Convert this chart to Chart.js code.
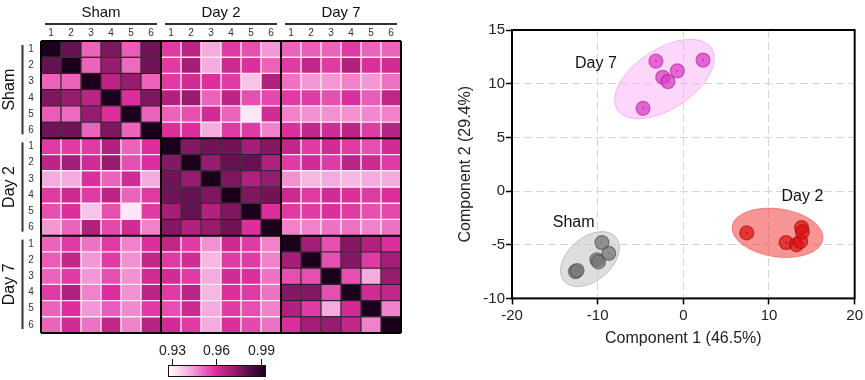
<!DOCTYPE html>
<html><head><meta charset="utf-8">
<script src="https://cdn.jsdelivr.net/npm/chart.js@4.4.1/dist/chart.umd.min.js"></script>
<style>
html,body{margin:0;padding:0;background:#fff;}
#wrap{position:relative;width:865px;height:380px;overflow:hidden;}
.box{position:absolute;top:0;}
</style></head><body>
<div id="wrap">
  <div class="box" style="left:0;width:430px;height:380px"><canvas id="heat" width="430" height="380"></canvas></div>
  <div class="box" style="left:430px;width:435px;height:380px"><canvas id="pca" width="435" height="380"></canvas></div>
</div>
<script>
// ---------------- DATA ----------------
const groups = ['Sham', 'Day 2', 'Day 7'];
const samples = ['1', '2', '3', '4', '5', '6'];

// Correlation blocks (rows = first group samples, cols = second group samples)
const shamSham = [
  [1.000, 0.980, 0.952, 0.976, 0.953, 0.978],
  [0.980, 1.000, 0.952, 0.972, 0.951, 0.978],
  [0.952, 0.952, 1.000, 0.966, 0.972, 0.952],
  [0.976, 0.972, 0.966, 1.000, 0.960, 0.976],
  [0.953, 0.951, 0.972, 0.960, 1.000, 0.952],
  [0.978, 0.978, 0.952, 0.976, 0.952, 1.000]
];
const shamDay2 = [
  [0.958, 0.966, 0.942, 0.958, 0.955, 0.945],
  [0.958, 0.970, 0.942, 0.963, 0.960, 0.952],
  [0.958, 0.962, 0.960, 0.958, 0.938, 0.968],
  [0.968, 0.972, 0.952, 0.966, 0.955, 0.956],
  [0.952, 0.955, 0.962, 0.952, 0.932, 0.962],
  [0.960, 0.960, 0.942, 0.958, 0.958, 0.948]
];
const shamDay7 = [
  [0.952, 0.953, 0.952, 0.958, 0.952, 0.952],
  [0.958, 0.965, 0.958, 0.968, 0.960, 0.962],
  [0.950, 0.945, 0.945, 0.948, 0.945, 0.950],
  [0.958, 0.958, 0.955, 0.960, 0.953, 0.965],
  [0.948, 0.946, 0.946, 0.946, 0.947, 0.948],
  [0.960, 0.965, 0.962, 0.966, 0.958, 0.967]
];
const day2Day2 = [
  [1.000, 0.975, 0.978, 0.978, 0.970, 0.975],
  [0.975, 1.000, 0.972, 0.980, 0.980, 0.968],
  [0.978, 0.972, 1.000, 0.976, 0.968, 0.972],
  [0.978, 0.980, 0.976, 1.000, 0.976, 0.978],
  [0.970, 0.980, 0.968, 0.976, 1.000, 0.960],
  [0.975, 0.968, 0.972, 0.978, 0.960, 1.000]
];
const day2Day7 = [
  [0.965, 0.958, 0.962, 0.958, 0.955, 0.962],
  [0.958, 0.962, 0.958, 0.966, 0.963, 0.958],
  [0.946, 0.940, 0.942, 0.940, 0.942, 0.942],
  [0.963, 0.958, 0.962, 0.960, 0.958, 0.960],
  [0.958, 0.958, 0.960, 0.958, 0.955, 0.956],
  [0.948, 0.948, 0.950, 0.950, 0.948, 0.950]
];
const day7Day7 = [
  [1.000, 0.970, 0.955, 0.975, 0.968, 0.960],
  [0.970, 1.000, 0.955, 0.975, 0.958, 0.970],
  [0.955, 0.955, 1.000, 0.955, 0.942, 0.972],
  [0.975, 0.975, 0.955, 1.000, 0.962, 0.965],
  [0.968, 0.958, 0.942, 0.962, 1.000, 0.948],
  [0.960, 0.970, 0.972, 0.965, 0.948, 1.000]
];
const colorbarTicks = [0.93, 0.96, 0.99];
const colorbarRange = [0.9276, 0.9935];

// PCA scores
const shamX = [-9.5, -8.7, -10.1, -9.9, -12.6, -12.4];
const shamY = [-4.8, -5.8, -6.4, -6.6, -7.5, -7.4];
const day2X = [7.4, 12.0, 13.2, 13.7, 13.8, 13.9];
const day2Y = [-3.9, -4.8, -5.0, -4.7, -3.4, -3.8];
const day7X = [-4.7, -3.2, -2.4, -1.8, -0.7, 2.3];
const day7Y = [7.7, 12.1, 10.6, 10.2, 11.2, 12.2];
// Confidence ellipses (order: Sham, Day 2, Day 7): centre and conjugate semi-diameters in data units
const ellipseCX = [-10.9, 11.0, -2.2];
const ellipseCY = [-6.34, -3.89, 10.43];
const ellipseU = [[3.03, 2.04], [5.30, -0.60], [5.51, 2.87]];
const ellipseV = [[1.62, -1.55], [-0.39, -2.22], [1.90, -2.35]];
const groupLabelX = [-12.8, 13.9, -10.2];
const groupLabelY = [-2.9, -0.56, 11.9];
const xTitle = 'Component 1 (46.5%)';
const yTitle = 'Component 2 (29.4%)';

// ---------------- HELPERS ----------------
Chart.defaults.font.family = "'Liberation Sans', Arial, sans-serif";
Chart.defaults.color = '#222';

function buildMatrix() {
  const blocks = [[shamSham, shamDay2, shamDay7], [null, day2Day2, day2Day7], [null, null, day7Day7]];
  const M = [];
  for (let gi = 0; gi < 3; gi++) for (let i = 0; i < 6; i++) {
    const row = [];
    for (let gj = 0; gj < 3; gj++) for (let j = 0; j < 6; j++) {
      row.push(gi <= gj ? blocks[gi][gj][i][j] : blocks[gj][gi][j][i]);
    }
    M.push(row);
  }
  return M;
}
const cmap = [
  [0.9276, [255, 255, 255]],
  [0.935, [250, 214, 240]],
  [0.945, [242, 152, 214]],
  [0.953, [233, 92, 184]],
  [0.960, [220, 46, 156]],
  [0.968, [176, 34, 126]],
  [0.976, [126, 22, 96]],
  [0.985, [72, 10, 62]],
  [0.9935, [32, 0, 32]],
  [1.0, [26, 0, 28]]
];
function colorFor(v) {
  if (v <= cmap[0][0]) return 'rgb(' + cmap[0][1].join(',') + ')';
  for (let i = 1; i < cmap.length; i++) {
    if (v <= cmap[i][0]) {
      const [v0, c0] = cmap[i - 1], [v1, c1] = cmap[i];
      const t = (v - v0) / (v1 - v0);
      return 'rgb(' + c0.map((c, k) => Math.round(c + (c1[k] - c) * t)).join(',') + ')';
    }
  }
  return 'rgb(' + cmap[cmap.length - 1][1].join(',') + ')';
}

// ---------------- HEATMAP ----------------
const matrix = buildMatrix();
const cellLabels = groups.flatMap(g => samples.map(s => g + ' ' + s));
const groupOf = i => Math.floor(i / samples.length);

const heatDatasets = matrix.map((row, r) => ({
  label: cellLabels[r],
  data: row.map(() => [r, r + 1]),
  backgroundColor: row.map(v => colorFor(v)),
  borderColor: row.map((v, c) => groupOf(r) === groupOf(c) ? 'rgba(25,0,20,0.8)' : 'rgba(255,228,242,0.75)'),
  borderWidth: 1,
  borderSkipped: false,
  categoryPercentage: 1,
  barPercentage: 1,
  grouped: false
}));

const heatDecor = {
  id: 'heatDecor',
  afterDraw(chart) {
    const { ctx, chartArea: a, scales: { x, y } } = chart;
    const n = cellLabels.length, per = samples.length;
    const band = x.getPixelForValue(1) - x.getPixelForValue(0);
    const colEdge = c => c < n ? x.getPixelForValue(c) - band / 2 : x.getPixelForValue(n - 1) + band / 2;
    ctx.save();
    // block separators and frame
    ctx.strokeStyle = '#000';
    ctx.lineWidth = 2;
    for (let k = 0; k <= groups.length; k++) {
      const px = colEdge(k * per);
      ctx.beginPath(); ctx.moveTo(px, a.top); ctx.lineTo(px, a.bottom); ctx.stroke();
      const py = y.getPixelForValue(k * per);
      ctx.beginPath(); ctx.moveTo(a.left, py); ctx.lineTo(a.right, py); ctx.stroke();
    }
    // column numbers
    ctx.fillStyle = '#333';
    ctx.font = "10px 'Liberation Sans', Arial, sans-serif";
    ctx.textAlign = 'center'; ctx.textBaseline = 'middle';
    for (let c = 0; c < n; c++) ctx.fillText(samples[c % per], x.getPixelForValue(c), a.top - 8);
    // row numbers
    for (let r = 0; r < n; r++) ctx.fillText(samples[r % per], a.left - 10, y.getPixelForValue(r + 0.5));
    // group labels and brackets
    ctx.fillStyle = '#111';
    ctx.strokeStyle = '#333';
    ctx.lineWidth = 2;
    ctx.font = "15px 'Liberation Sans', Arial, sans-serif";
    groups.forEach((g, gi) => {
      const x0 = colEdge(gi * per), x1 = colEdge((gi + 1) * per);
      ctx.fillText(g, (x0 + x1) / 2, a.top - 28);
      ctx.beginPath(); ctx.moveTo(x0 + 4, a.top - 17); ctx.lineTo(x1 - 4, a.top - 17); ctx.stroke();
      const y0 = y.getPixelForValue(gi * per), y1 = y.getPixelForValue((gi + 1) * per);
      ctx.beginPath(); ctx.moveTo(a.left - 18.5, y0 + 4); ctx.lineTo(a.left - 18.5, y1 - 4); ctx.stroke();
      ctx.save();
      ctx.translate(a.left - 31, (y0 + y1) / 2);
      ctx.rotate(-Math.PI / 2);
      ctx.font = "16px 'Liberation Sans', Arial, sans-serif";
      ctx.fillText(g, 0, 0);
      ctx.restore();
    });
    // colour bar
    const bx0 = 168, bx1 = 266, by0 = 365, bh = 12;
    const [vmin, vmax] = colorbarRange;
    for (let px = bx0; px < bx1; px++) {
      ctx.fillStyle = colorFor(vmin + (px - bx0 + 0.5) / (bx1 - bx0) * (vmax - vmin));
      ctx.fillRect(px, by0, 1, bh);
    }
    ctx.strokeStyle = '#111'; ctx.lineWidth = 1;
    ctx.strokeRect(bx0 + 0.5, by0 + 0.5, bx1 - bx0 - 1, bh - 1);
    ctx.fillStyle = '#222';
    ctx.font = "14px 'Liberation Sans', Arial, sans-serif";
    colorbarTicks.forEach(t => {
      const px = Math.round(bx0 + (t - vmin) / (vmax - vmin) * (bx1 - bx0)) + 0.5;
      ctx.beginPath(); ctx.moveTo(px, by0 - 6); ctx.lineTo(px, by0); ctx.stroke();
      ctx.fillText(t.toFixed(2), px, by0 - 14);
    });
    ctx.restore();
  }
};

new Chart(document.getElementById('heat'), {
  type: 'bar',
  data: { labels: cellLabels, datasets: heatDatasets },
  options: {
    responsive: false,
    animation: false,
    events: [],
    layout: { padding: { left: 41, top: 41, right: 29, bottom: 47 } },
    plugins: { legend: { display: false }, tooltip: { enabled: false } },
    scales: {
      x: { type: 'category', display: false },
      y: { type: 'linear', min: 0, max: cellLabels.length, reverse: true, display: false }
    }
  },
  plugins: [heatDecor]
});

// ---------------- PCA SCATTER ----------------
const toPts = (xs, ys) => xs.map((v, i) => ({ x: v, y: ys[i] }));
const shamPts = toPts(shamX, shamY), day2Pts = toPts(day2X, day2Y), day7Pts = toPts(day7X, day7Y);

const ellipseStyle = [
  { fill: 'rgba(200,200,200,0.6)', stroke: 'rgba(170,170,170,0.7)' },
  { fill: 'rgba(240,50,50,0.52)', stroke: 'rgba(235,90,90,0.6)' },
  { fill: 'rgba(250,160,245,0.42)', stroke: 'rgba(240,150,235,0.6)' }
];

const pcaDecor = {
  id: 'pcaDecor',
  beforeDatasetsDraw(chart) {
    const { ctx, scales: { x, y } } = chart;
    const sx = x.getPixelForValue(1) - x.getPixelForValue(0);
    const sy = y.getPixelForValue(1) - y.getPixelForValue(0);
    ctx.save();
    groups.forEach((g, i) => {
      const [ux, uy] = ellipseU[i], [vx, vy] = ellipseV[i];
      ctx.save();
      ctx.translate(x.getPixelForValue(ellipseCX[i]), y.getPixelForValue(ellipseCY[i]));
      ctx.transform(ux * sx, uy * sy, vx * sx, vy * sy, 0, 0);
      ctx.beginPath();
      ctx.arc(0, 0, 1, 0, Math.PI * 2);
      ctx.restore();
      ctx.fillStyle = ellipseStyle[i].fill;
      ctx.fill();
      ctx.strokeStyle = ellipseStyle[i].stroke;
      ctx.lineWidth = 1;
      ctx.stroke();
    });
    ctx.restore();
  },
  afterDraw(chart) {
    const { ctx, chartArea: a, scales: { x, y } } = chart;
    ctx.save();
    ctx.strokeStyle = '#000';
    ctx.lineWidth = 2;
    ctx.setLineDash([]);
    ctx.strokeRect(a.left, a.top, a.right - a.left, a.bottom - a.top);
    ctx.fillStyle = '#111';
    ctx.font = "16px 'Liberation Sans', Arial, sans-serif";
    ctx.textAlign = 'center'; ctx.textBaseline = 'middle';
    groups.forEach((g, i) => ctx.fillText(g, x.getPixelForValue(groupLabelX[i]), y.getPixelForValue(groupLabelY[i])));
    ctx.restore();
  }
};

const gridCommon = {
  color: '#d6d6d6', lineWidth: 1, tickLength: 6, tickColor: '#000', tickWidth: 1.5, tickBorderDash: []
};
const dotDs = (pts, color) => ({ data: pts, pointRadius: 1.1, pointBackgroundColor: color, pointBorderWidth: 0, showLine: false });

new Chart(document.getElementById('pca'), {
  type: 'scatter',
  data: {
    datasets: [
      { label: 'Sham', data: shamPts, pointRadius: 7, pointBackgroundColor: 'rgba(115,115,115,0.72)', pointBorderColor: 'rgba(70,70,70,0.6)', pointBorderWidth: 1.2 },
      { label: 'Day 2', data: day2Pts, pointRadius: 7, pointBackgroundColor: 'rgba(222,16,16,0.72)', pointBorderColor: 'rgba(150,0,0,0.55)', pointBorderWidth: 1.2 },
      { label: 'Day 7', data: day7Pts, pointRadius: 7, pointBackgroundColor: 'rgba(222,60,200,0.75)', pointBorderColor: 'rgba(150,40,130,0.6)', pointBorderWidth: 1.2 },
      dotDs(shamPts, '#b89a3c'),
      dotDs(day2Pts, '#a00010'),
      dotDs(day7Pts, '#a8208e')
    ]
  },
  options: {
    responsive: false,
    animation: false,
    events: [],
    layout: { padding: { left: 22, top: 30, right: 9, bottom: 28 } },
    plugins: { legend: { display: false }, tooltip: { enabled: false } },
    scales: {
      x: {
        type: 'linear', min: -20, max: 20,
        ticks: { stepSize: 10, font: { size: 15 }, color: '#222', padding: 2, maxRotation: 0 },
        grid: gridCommon,
        border: { display: false, dash: [8, 4] },
        title: { display: true, text: xTitle, font: { size: 16 }, color: '#222' },
        afterFit(s) { s.height = 53.6; }
      },
      y: {
        type: 'linear', min: -10, max: 15,
        ticks: { stepSize: 5, font: { size: 15 }, color: '#222', padding: 1 },
        grid: gridCommon,
        border: { display: false, dash: [8, 4] },
        title: { display: true, text: yTitle, font: { size: 16 }, color: '#222' },
        afterFit(s) { s.width = 60; }
      }
    }
  },
  plugins: [pcaDecor]
});
</script>
</body></html>
